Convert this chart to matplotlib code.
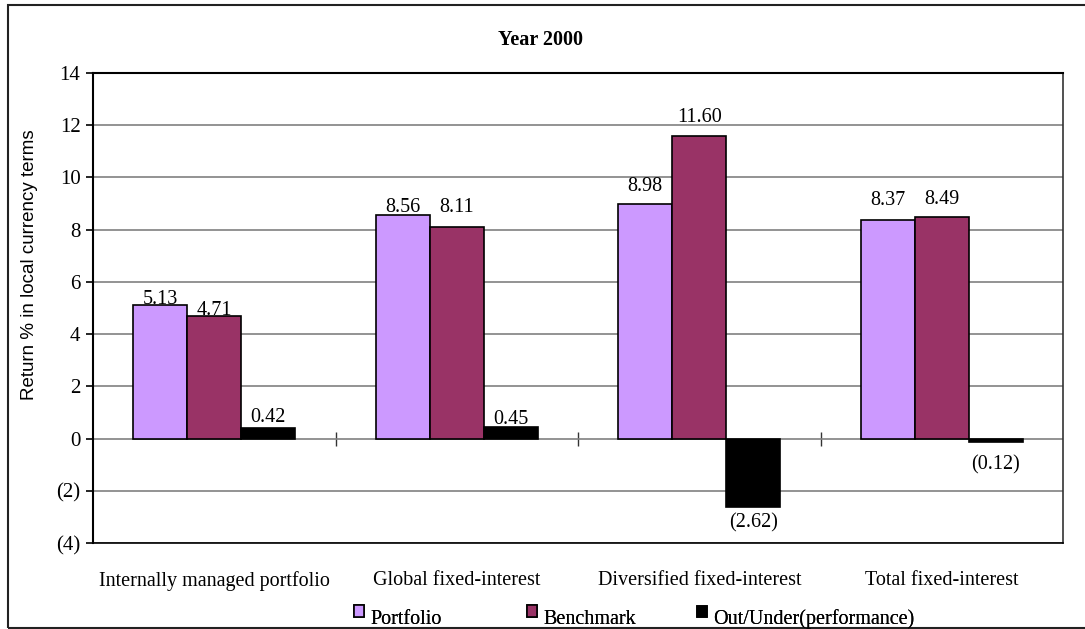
import matplotlib
matplotlib.use("Agg")
import matplotlib.pyplot as plt
from matplotlib.patches import Rectangle
from matplotlib.legend_handler import HandlerPatch
import numpy as np

# --- data -------------------------------------------------------------
categories = ["Internally managed portfolio", "Global fixed-interest",
              "Diversified fixed-interest", "Total fixed-interest"]
portfolio = [5.13, 8.56, 8.98, 8.37]
benchmark = [4.71, 8.11, 11.60, 8.49]
out_under = [0.42, 0.45, -2.62, -0.12]
series_names = ["Portfolio", "Benchmark", "Out/Under(performance)"]
y_ticks = [-4, -2, 0, 2, 4, 6, 8, 10, 12, 14]
title = "Year 2000"
y_label = "Return % in local currency terms"

# --- styling ----------------------------------------------------------
colors = ["#CC99FF", "#993366", "#000000"]
serif = ["Liberation Serif", "DejaVu Serif"]
sans = ["Liberation Sans", "DejaVu Sans"]
FS = 14.5
# distance (px) from bar end to the centre of each value label
label_gap_px = [[5, 7.5, 17.5, 20],
                [5, 19, 18, 17],
                [10, 7, 16, 23]]


def fmt(v, decimals=2):
    """Accounting style: negatives in parentheses."""
    s = f"{abs(v):.{decimals}f}"
    return f"({s})" if v < 0 else s


W, H = 1085, 629
fig = plt.figure(figsize=(W / 100, H / 100), dpi=100)
fig.patch.set_facecolor("white")

# outer chart border
fig.add_artist(Rectangle((8 / W, 1 / H), 1.2, (H - 6) / H, transform=fig.transFigure,
                         fill=False, edgecolor="#222222", linewidth=1.5))

ax_left, ax_top, ax_right, ax_bottom = 93, 73, 1063, 543
ax = fig.add_axes([ax_left / W, (H - ax_bottom) / H,
                   (ax_right - ax_left) / W, (ax_bottom - ax_top) / H])

x = np.arange(len(categories))
w = 0.223
series = [portfolio, benchmark, out_under]
containers = []
for i, (vals, c) in enumerate(zip(series, colors)):
    bc = ax.bar(x + (i - 1) * w, vals, width=w, color=c, edgecolor="black",
                linewidth=1.2, zorder=3, label=series_names[i])
    containers.append(bc)

# value labels
for bc, vals, gaps in zip(containers, series, label_gap_px):
    for rect, v, g in zip(bc, vals, gaps):
        cx = rect.get_x() + rect.get_width() / 2
        dy = g * 0.72 if v >= 0 else -g * 0.72
        ax.annotate(fmt(v), (cx, v), xytext=(0, dy), textcoords="offset points",
                    ha="center", va="center", fontsize=FS, family=serif, zorder=4)

ax.set_xlim(-0.5, len(categories) - 0.5)
ax.set_ylim(y_ticks[0], y_ticks[-1])
ax.set_yticks(y_ticks)
ax.set_yticklabels([fmt(t, 0) for t in y_ticks], fontsize=15, family=serif)
ax.yaxis.grid(True, color="#808080", linewidth=1.2, zorder=0)
ax.set_axisbelow(True)
ax.tick_params(axis="y", direction="out", length=5, width=1.2, pad=4)

ax.set_xticks(x)
ax.set_xticklabels(categories, fontsize=FS, family=serif)
ax.tick_params(axis="x", length=0, pad=20)

# category boundary ticks on the zero line
zero_frac = (0 - y_ticks[0]) / (y_ticks[-1] - y_ticks[0])
sec = ax.secondary_xaxis(zero_frac)
sec.set_xticks(np.arange(1, len(categories)) - 0.5)
sec.set_xticklabels([])
sec.tick_params(axis="x", direction="inout", length=10, width=1, color="#333333")
for sp in sec.spines.values():
    sp.set_visible(False)

for name, sp in ax.spines.items():
    sp.set_color("black")
    sp.set_linewidth(1.5)
ax.spines["right"].set_color("#333333")
ax.spines["right"].set_linewidth(1.2)
ax.spines["bottom"].set_linewidth(1.2)

fig.text(541 / W, 1 - 40 / H, title, ha="center", va="center",
         fontsize=FS, fontweight="bold", family=serif)
fig.text(30 / W, 1 - 265 / H, y_label, rotation=90,
         ha="center", va="center", fontsize=13.5, family=sans)


# legend keys: small squares raised toward the top of the text line
def raised_square(legend, orig_handle, xdescent, ydescent, width, height, fontsize):
    return Rectangle((-xdescent, -ydescent + height * 0.45), width, height)


# one legend entry per series, evenly spaced along the bottom
legend_left = [354, 527, 697]
for bc, name, lx in zip(containers, series_names, legend_left):
    lg = fig.legend(handles=[bc.patches[0]], labels=[name], loc="center left",
                    bbox_to_anchor=(lx / W, 1 - 619 / H), frameon=False,
                    prop={"family": serif, "size": FS}, handlelength=0.5,
                    handleheight=0.5, handletextpad=0.3, borderpad=0,
                    borderaxespad=0,
                    handler_map={Rectangle: HandlerPatch(patch_func=raised_square)})
    fig.add_artist(lg)

fig.savefig("out.png", dpi=100, facecolor="white")
